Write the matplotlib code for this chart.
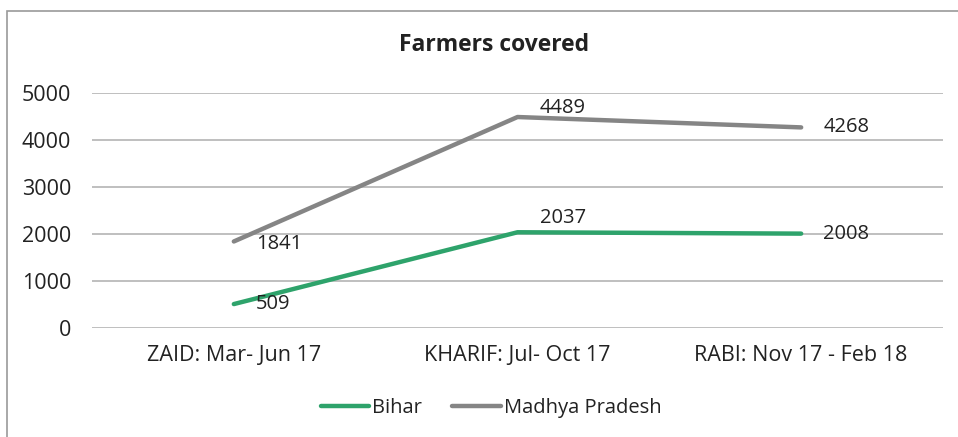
import matplotlib.pyplot as plt
from matplotlib.patches import Rectangle

plt.rcParams['font.family'] = ['Open Sans', 'DejaVu Sans']

seasons = ['ZAID: Mar- Jun 17', 'KHARIF: Jul- Oct 17', 'RABI: Nov 17 - Feb 18']
bihar = [509, 2037, 2008]
madhya_pradesh = [1841, 4489, 4268]

green = '#2EA36B'
grey = '#858585'
text_col = '#222222'

W, H = 958, 437
fig = plt.figure(figsize=(W / 100, H / 100), dpi=100)
ax = fig.add_axes([92 / W, 1 - 328 / H, (943 - 92) / W, (328 - 93) / H])

x = range(len(seasons))
ax.plot(x, bihar, color=green, lw=3.2, solid_capstyle='round', label='Bihar')
ax.plot(x, madhya_pradesh, color=grey, lw=3.2, solid_capstyle='round', label='Madhya Pradesh')

# value labels sit to the right of each point
bihar_off = [(16, 0), (16, 10), (16, 0)]
mp_off = [(16, -1.5), (16, 6.5), (16, 0)]
for i, v in enumerate(bihar):
    ax.annotate(str(v), (i, v), xytext=bihar_off[i], textcoords='offset points',
                fontsize=14.5, color=text_col, va='center')
for i, v in enumerate(madhya_pradesh):
    ax.annotate(str(v), (i, v), xytext=mp_off[i], textcoords='offset points',
                fontsize=14.5, color=text_col, va='center')

ax.set_xlim(-0.5, 2.5)
ax.set_ylim(0, 5000)
ax.set_yticks(range(0, 5001, 1000))
ax.set_xticks(list(x))
ax.set_xticklabels(seasons)
ax.grid(axis='y', color='#B4B4B4', lw=1.2)
ax.set_axisbelow(True)
for s in ax.spines.values():
    s.set_visible(False)
ax.tick_params(length=0, labelsize=15.5, colors=text_col)
ax.tick_params(axis='x', pad=12)
ax.tick_params(axis='y', pad=15)

fig.text(494 / W, 1 - 45 / H, 'Farmers covered', ha='center', va='center',
         fontsize=16.5, fontweight='bold', color=text_col)

fig.legend(loc='center', bbox_to_anchor=(491 / W, 1 - 408 / H), ncol=2, frameon=False,
           fontsize=14.5, handlelength=2.4, handletextpad=0.15, columnspacing=1.5,
           labelcolor=text_col)

# outer chart frame, running off the right and bottom edges
fig.patches.append(Rectangle((7 / W, -0.1), 1.2, 1 - 11 / H + 0.1, transform=fig.transFigure,
                             fill=False, edgecolor='#9A9A9A', lw=1.2))

fig.savefig('out.png', dpi=100)
